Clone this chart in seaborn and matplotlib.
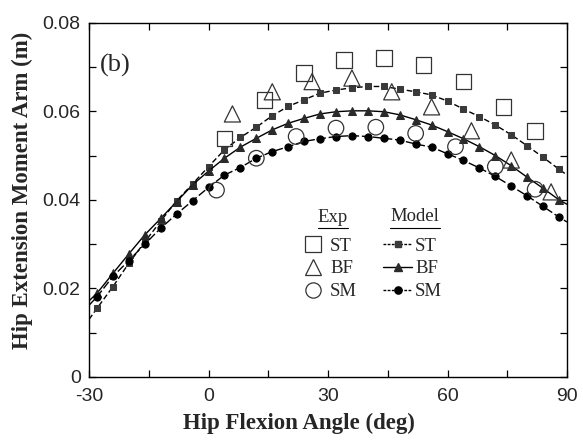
import matplotlib
matplotlib.use("Agg")
import matplotlib.pyplot as plt
from matplotlib.lines import Line2D
from matplotlib.ticker import MultipleLocator, FuncFormatter
import numpy as np
import seaborn as sns

# ---------------- data ----------------
model_angle = [-30, -28, -24, -20, -16, -12, -8, -4, 0, 4, 8, 12, 16, 20, 24, 28,
               32, 36, 40, 44, 48, 52, 56, 60, 64, 68, 72, 76, 80, 84, 88, 90]
model_st = [0.0130, 0.0155, 0.0204, 0.0257, 0.0305, 0.0352, 0.0398, 0.0436, 0.0475,
            0.0513, 0.0541, 0.0564, 0.0590, 0.0611, 0.0626, 0.0641, 0.0648, 0.0653,
            0.0656, 0.0656, 0.0650, 0.0644, 0.0637, 0.0623, 0.0605, 0.0588, 0.0569,
            0.0547, 0.0522, 0.0496, 0.0469, 0.0456]
model_bf = [0.0172, 0.0189, 0.0234, 0.0278, 0.0321, 0.0358, 0.0396, 0.0434, 0.0465,
            0.0494, 0.0519, 0.0539, 0.0558, 0.0573, 0.0584, 0.0594, 0.0599, 0.0601,
            0.0601, 0.0599, 0.0592, 0.0581, 0.0569, 0.0554, 0.0538, 0.0520, 0.0500,
            0.0477, 0.0451, 0.0426, 0.0400, 0.0390]
model_sm = [0.0162, 0.0181, 0.0227, 0.0263, 0.0300, 0.0336, 0.0368, 0.0398, 0.0428,
            0.0456, 0.0473, 0.0494, 0.0509, 0.0520, 0.0532, 0.0538, 0.0543, 0.0545,
            0.0543, 0.0539, 0.0535, 0.0526, 0.0519, 0.0504, 0.0489, 0.0472, 0.0453,
            0.0431, 0.0409, 0.0385, 0.0361, 0.0350]

exp_st_angle = [4, 14, 24, 34, 44, 54, 64, 74, 82]
exp_st = [0.0539, 0.0626, 0.0686, 0.0716, 0.0720, 0.0705, 0.0667, 0.0610, 0.0556]
exp_bf_angle = [6, 16, 26, 36, 46, 56, 66, 76, 86]
exp_bf = [0.0594, 0.0644, 0.0667, 0.0675, 0.0644, 0.0610, 0.0556, 0.0490, 0.0418]
exp_sm_angle = [2, 12, 22, 32, 42, 52, 62, 72, 82]
exp_sm = [0.0422, 0.0494, 0.0543, 0.0562, 0.0564, 0.0550, 0.0520, 0.0475, 0.0424]

x_ticks = [-30, 0, 30, 60, 90]
y_ticks = [0, 0.02, 0.04, 0.06, 0.08]
x_label = "Hip Flexion Angle (deg)"
y_label = "Hip Extension Moment Arm (m)"
panel_label = "(b)"
series_names = ["ST", "BF", "SM"]

# ---------------- style ----------------
sns.set_style("ticks")
plt.rcParams['font.family'] = ['Liberation Sans', 'DejaVu Sans']
plt.rcParams['axes.unicode_minus'] = False
sans = ['Liberation Sans', 'DejaVu Sans']
serif = ['Liberation Serif', 'DejaVu Serif']

fig = plt.figure(figsize=(5.83, 4.40), dpi=100)
ax = fig.add_axes([0.1527, 0.1432, 0.8199, 0.8052])

dark = "#2a2a2a"
mk_every = slice(1, len(model_angle) - 1)

sns.lineplot(x=model_angle, y=model_st, ax=ax, color="black", linestyle=(0, (4, 2)),
             linewidth=1.0, marker="s", markersize=4.6, markerfacecolor="#3a3a3a",
             markeredgecolor="#3a3a3a", markevery=mk_every, sort=False)
sns.lineplot(x=model_angle, y=model_bf, ax=ax, color="black", linestyle="-",
             linewidth=1.0, marker="^", markersize=5.5, markerfacecolor=dark,
             markeredgecolor=dark, markevery=mk_every, sort=False)
sns.lineplot(x=model_angle, y=model_sm, ax=ax, color="black", linestyle=(0, (6, 2)),
             linewidth=1.0, marker="o", markersize=5.2, markerfacecolor="black",
             markeredgecolor="black", markevery=mk_every, sort=False)

exp_s = 125
sns.scatterplot(x=exp_st_angle, y=exp_st, ax=ax, marker="s", s=exp_s,
                facecolor="none", edgecolor="#333333", linewidth=0.9, zorder=3)
sns.scatterplot(x=exp_bf_angle, y=exp_bf, ax=ax, marker="^", s=exp_s + 10,
                facecolor="none", edgecolor="#333333", linewidth=0.9, zorder=3)
sns.scatterplot(x=exp_sm_angle, y=exp_sm, ax=ax, marker="o", s=exp_s,
                facecolor="none", edgecolor="#333333", linewidth=0.9, zorder=3)

ax.set_xlim(-30, 90)
ax.set_ylim(0, 0.08)
ax.set_xticks(x_ticks)
ax.set_yticks(y_ticks)
ax.xaxis.set_minor_locator(MultipleLocator(15))
ax.yaxis.set_minor_locator(MultipleLocator(0.01))
ax.yaxis.set_major_formatter(FuncFormatter(lambda v, p: "0" if abs(v) < 1e-9 else f"{v:.2f}"))
ax.tick_params(which="both", direction="in", top=True, right=True, length=5,
               width=0.9, color="black")
ax.tick_params(which="major", labelsize=14)
ax.tick_params(axis="x", which="major", pad=8)
ax.tick_params(axis="y", which="major", pad=6)
for lbl in ax.get_xticklabels() + ax.get_yticklabels():
    lbl.set_family(sans)
for s in ax.spines.values():
    s.set_linewidth(1.0)
    s.set_color("black")

ax.set_xlabel(x_label, fontsize=16.5, fontweight="bold", family=serif)
ax.set_ylabel(y_label, fontsize=16.5, fontweight="bold", family=serif)
ax.xaxis.set_label_coords(0.439, -0.100)
ax.yaxis.set_label_coords(-0.118, 0.526)

ax.text(0.023, 0.878, panel_label, transform=ax.transAxes, fontsize=19,
        family=serif, va="center", ha="left")

# ---------------- legends ----------------
ec = "#333333"
exp_handles = [
    Line2D([], [], linestyle="none", marker="s", markersize=11, markerfacecolor="none",
           markeredgecolor=ec, markeredgewidth=0.9),
    Line2D([], [], linestyle="none", marker="^", markersize=11.5, markerfacecolor="none",
           markeredgecolor=ec, markeredgewidth=0.9),
    Line2D([], [], linestyle="none", marker="o", markersize=11, markerfacecolor="none",
           markeredgecolor=ec, markeredgewidth=0.9),
]
model_handles = [
    Line2D([], [], color="black", linestyle=(0, (2, 1)), linewidth=1.0, marker="s",
           markersize=4.6, markerfacecolor="#3a3a3a", markeredgecolor="#3a3a3a"),
    Line2D([], [], color="black", linestyle="-", linewidth=1.0, marker="^",
           markersize=5.5, markerfacecolor=dark, markeredgecolor=dark),
    Line2D([], [], color="black", linestyle=(0, (2, 1)), linewidth=1.0, marker="o",
           markersize=5.2, markerfacecolor="black", markeredgecolor="black"),
]
leg_fs = 13.5
leg_font = {"family": serif, "size": leg_fs}
leg1 = ax.legend(exp_handles, series_names, loc="upper left",
                 bbox_to_anchor=(0.445, 0.394), frameon=False, prop=leg_font,
                 handlelength=1.2, handletextpad=0.31, labelspacing=0.31,
                 borderaxespad=0, borderpad=0)
ax.add_artist(leg1)
leg2 = ax.legend(model_handles, series_names, loc="upper left",
                 bbox_to_anchor=(0.615, 0.394), frameon=False, prop=leg_font,
                 handlelength=1.55, handletextpad=0.16, labelspacing=0.31,
                 borderaxespad=0, borderpad=0)

ax.text(0.510, 0.449, "Exp", transform=ax.transAxes, fontsize=leg_fs, family=serif,
        ha="center", va="center")
ax.text(0.681, 0.452, "Model", transform=ax.transAxes, fontsize=leg_fs, family=serif,
        ha="center", va="center")
ax.plot([0.479, 0.542], [0.421, 0.421], transform=ax.transAxes, color="black", lw=0.8)
ax.plot([0.630, 0.734], [0.421, 0.421], transform=ax.transAxes, color="black", lw=0.8)

fig.savefig("out.png", dpi=100, facecolor="white")
